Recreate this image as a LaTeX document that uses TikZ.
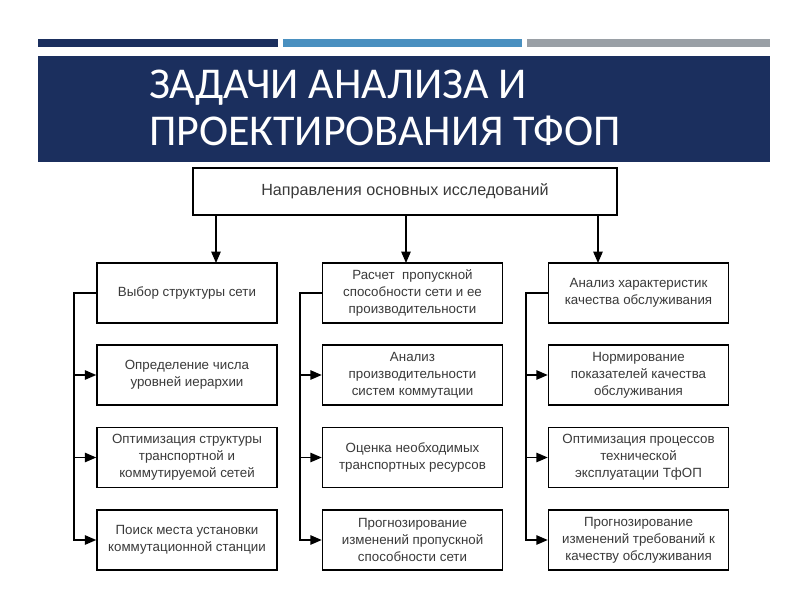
\documentclass[tikz,border=0pt]{standalone}
\usepackage{fontspec}
\setmainfont{Liberation Sans}
\newfontfamily\titlefont{Carlito}
\usetikzlibrary{arrows.meta}
\definecolor{navy}{HTML}{1B2F5E}
\definecolor{lblue}{HTML}{4A90C0}
\definecolor{gbar}{HTML}{9AA0A6}
\definecolor{txt}{HTML}{3A3A3A}
\tikzset{
  box/.style={draw=black, line width=1.1pt, minimum width=135pt, minimum height=45pt,
    align=center, inner sep=2pt, text=txt, font=\fontsize{10}{12.8}\selectfont},
  topbox/.style={draw=black, line width=1.1pt, minimum width=318pt, minimum height=35pt,
    text=txt, font=\fontsize{12.1}{14}\selectfont},
  conn/.style={draw=black, line width=1.1pt},
  arr/.style={conn, -{Triangle[length=8.5pt,width=7pt]}},
  ttl/.style={text=white, anchor=base west, inner sep=0pt, font=\titlefont\fontsize{33}{40}\selectfont}
}
\begin{document}
\begin{tikzpicture}[x=0.75pt,y=-0.75pt]
\useasboundingbox (0,0) rectangle (800,600);
\fill[white] (0,0) rectangle (800,600);
% top bars
\fill[navy] (38,39) rectangle (278,47);
\fill[lblue] (283,39) rectangle (522,47);
\fill[gbar] (527,39) rectangle (770,47);
% banner
\fill[navy] (38,56) rectangle (770,162);
\node[ttl] (t1) at (149,98) {ЗАДАЧИ АНАЛИЗА И};
\node[ttl] (t2) at (149,145) {ПРОЕКТИРОВАНИЯ ТФОП};
% top box
\node[topbox] (top) at (405,191.5) {Направления основных исследований};
% column 1
\node[box] (a1) at (187,293) {Выбор структуры сети};
\node[box] (a2) at (187,375) {Определение числа\\уровней иерархии};
\node[box] (a3) at (187,457.5) {Оптимизация структуры\\транспортной и\\коммутируемой сетей};
\node[box] (a4) at (187,540) {Поиск места установки\\коммутационной станции};
% column 2
\node[box] (b1) at (412.5,293) {Расчет\ \ пропускной\\способности сети и ее\\производительности};
\node[box] (b2) at (412.5,375) {Анализ\\производительности\\систем коммутации};
\node[box] (b3) at (412.5,457.5) {Оценка необходимых\\транспортных ресурсов};
\node[box] (b4) at (412.5,540) {Прогнозирование\\изменений пропускной\\способности сети};
% column 3
\node[box] (c1) at (638.5,293) {Анализ характеристик\\качества обслуживания};
\node[box] (c2) at (638.5,375) {Нормирование\\показателей качества\\обслуживания};
\node[box] (c3) at (638.5,457.5) {Оптимизация процессов\\технической\\эксплуатации ТфОП};
\node[box] (c4) at (638.5,540) {Прогнозирование\\изменений требований к\\качеству обслуживания};
% arrow targets
\coordinate (pa) at (216,263);
\coordinate (pb) at (406,263);
\coordinate (pc) at (598,263);
\draw[arr] (top.south -| pa) -- (pa);
\draw[arr] (top.south -| pb) -- (pb);
\draw[arr] (top.south -| pc) -- (pc);
% rails
\coordinate (ra) at (74,293);
\coordinate (rb) at (300,293);
\coordinate (rc) at (526,293);
\draw[arr] (a1.west) -- (ra) |- (a4.west);
\draw[arr] (a2.west -| ra) -- (a2.west);
\draw[arr] (a3.west -| ra) -- (a3.west);
\draw[arr] (b1.west) -- (rb) |- (b4.west);
\draw[arr] (b2.west -| rb) -- (b2.west);
\draw[arr] (b3.west -| rb) -- (b3.west);
\draw[arr] (c1.west) -- (rc) |- (c4.west);
\draw[arr] (c2.west -| rc) -- (c2.west);
\draw[arr] (c3.west -| rc) -- (c3.west);
\end{tikzpicture}
\end{document}
